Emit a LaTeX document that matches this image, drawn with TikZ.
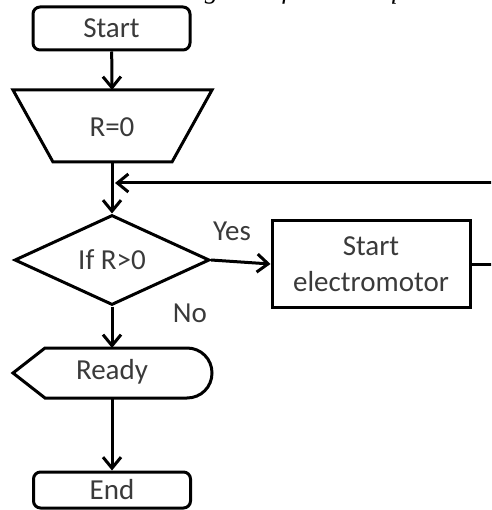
\documentclass[tikz,border=0pt]{standalone}
\usepackage{fontspec}
\setmainfont{Carlito}
\newfontfamily\titlefont{Liberation Serif}
\usetikzlibrary{arrows.meta,shapes.geometric}
\definecolor{txt}{HTML}{3a3a3a}
\begin{document}
\begin{tikzpicture}[x=1pt,y=-1pt,line width=3pt,
  lbl/.style={font=\fontsize{29}{36}\selectfont, text=txt, inner sep=0pt},
  termbox/.style={lbl, draw, rounded corners=7pt, minimum width=157pt},
  arr/.style={-{Straight Barb[length=11pt,width=18pt]}}]
\path[use as bounding box, clip] (0,0) rectangle (491,510);
\node[anchor=base west, inner sep=0pt, font=\titlefont\itshape\fontsize{27}{30}\selectfont] (title) at (106.5,-1) {Flow diagram of starts request};
% Start
\node[termbox, minimum height=43pt] (start) at (111.5,28.5) {Start};
% R=0 trapezoid
\draw (13,90) -- (212,90) -- (172,162) -- (53,162) -- cycle;
\node[lbl] (r0) at (112,127) {R=0};
\coordinate (rtop) at (112,90);
\coordinate (rbot) at (112,162);
\draw[arr] (start) -- (rtop);
% decision
\node[lbl, draw, diamond, minimum width=195pt, minimum height=90pt] (dec) at (112,260) {If R>0};
\draw[arr] (rbot) -- (dec.north);
% motor
\node[lbl, draw, minimum width=198pt, minimum height=86pt, align=center] (motor) at (371,264) {Start\\electromotor};
\draw[arr] (dec.east) -- (motor.west);
\node[lbl] (yes) at (232,231) {Yes};
\node[lbl] (no) at (190,313) {No};
% feedback loop
\coordinate (loopR) at (530,183);
\coordinate (fb) at (115,183);
\draw[arr] (motor.east) -- (motor.east -| loopR) -- (loopR) -- (fb);
% Ready display
\draw (45,348) -- (187,348) .. controls (201,348) and (212,359) .. (212,373)
  .. controls (212,387) and (201,398) .. (187,398) -- (45,398) -- (13,373) -- cycle;
\node[lbl] (ready) at (112,372) {Ready};
\coordinate (rdtop) at (112,348);
\coordinate (rdbot) at (112,398);
\draw[arr] (dec.south) -- (rdtop);
% End
\node[termbox, minimum height=36pt] (endbox) at (112,490) {End};
\draw[arr] (rdbot) -- (endbox.north);
\end{tikzpicture}
\end{document}
